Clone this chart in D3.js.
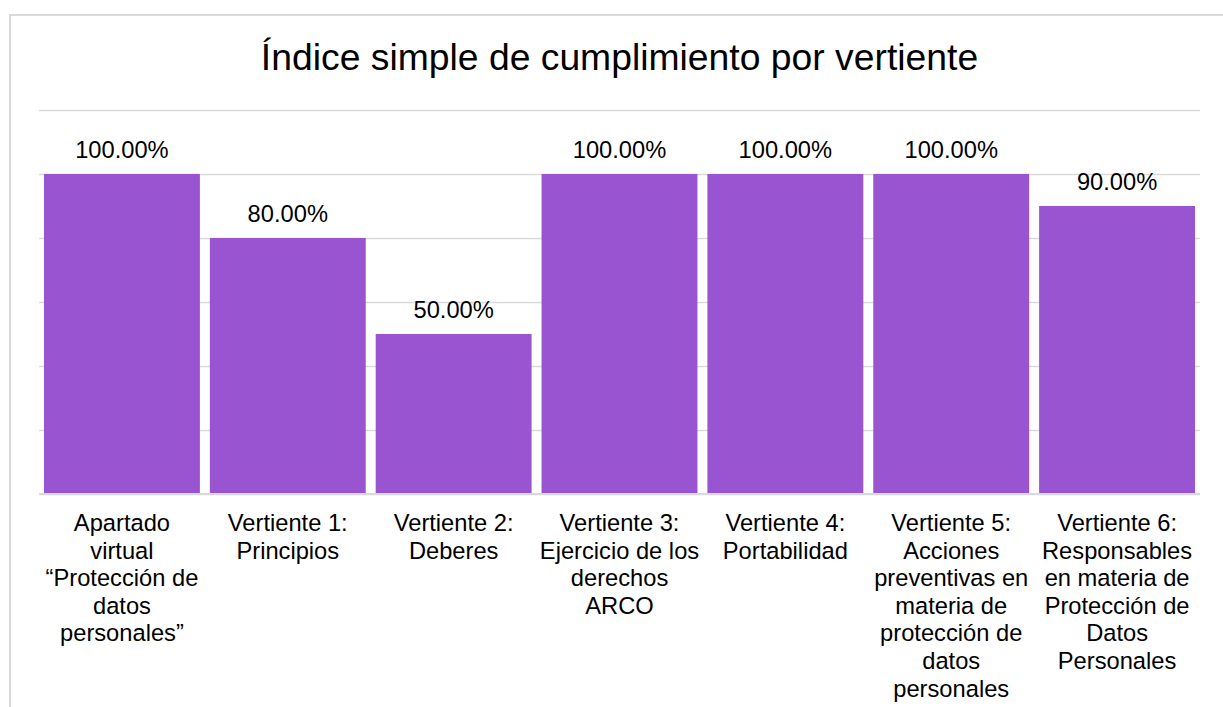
<!DOCTYPE html>
<html>
<head>
<meta charset="utf-8">
<script src="https://cdn.jsdelivr.net/npm/d3@7"></script>
<style>
  html, body { margin: 0; padding: 0; background: #fff; }
  svg { display: block; font-family: "Liberation Sans", Arial, sans-serif; }
</style>
</head>
<body>
<svg id="chart" width="1223" height="707"></svg>
<script>
// Category labels (line breaks as shown under each bar)
const categories = [
  "Apartado\nvirtual\n“Protección de\ndatos\npersonales”",
  "Vertiente 1:\nPrincipios",
  "Vertiente 2:\nDeberes",
  "Vertiente 3:\nEjercicio de los\nderechos\nARCO",
  "Vertiente 4:\nPortabilidad",
  "Vertiente 5:\nAcciones\npreventivas en\nmateria de\nprotección de\ndatos\npersonales",
  "Vertiente 6:\nResponsables\nen materia de\nProtección de\nDatos\nPersonales"
];
// Compliance index per category (fraction)
const values = [1.00, 0.80, 0.50, 1.00, 1.00, 1.00, 0.90];
// Gridline positions
const gridTicks = [0, 0.2, 0.4, 0.6, 0.8, 1.0, 1.2];
const title = "Índice simple de cumplimiento por vertiente";

const svg = d3.select("#chart");
const W = 1223, H = 707;
const plot = { left: 39, right: 1200, top: 110, bottom: 494 };
const labelSize = 23.7;

// Outer chart frame
svg.append("rect")
  .attr("x", 10).attr("y", 15)
  .attr("width", W + 20).attr("height", H + 20)
  .attr("fill", "#fff")
  .attr("stroke", "#d9d9d9").attr("stroke-width", 2);

svg.append("text")
  .attr("x", (plot.left + plot.right) / 2)
  .attr("y", 70)
  .attr("text-anchor", "middle")
  .attr("font-size", 37.3)
  .attr("fill", "#000")
  .text(title);

const x = d3.scaleBand()
  .domain(categories)
  .range([plot.left, plot.right])
  .paddingInner(0.06)
  .paddingOuter(0.03);

const y = d3.scaleLinear()
  .domain([0, 1.2])
  .range([plot.bottom, plot.top]);

// Horizontal gridlines
const grid = svg.append("g")
  .attr("transform", `translate(${plot.left},0)`)
  .call(d3.axisLeft(y)
    .tickValues(gridTicks)
    .tickSize(-(plot.right - plot.left))
    .tickFormat(""));
grid.select(".domain").remove();
grid.selectAll(".tick line")
  .attr("stroke", "#d9d9d9")
  .attr("stroke-width", 1.5);

// Bars
svg.append("g").selectAll("rect")
  .data(values)
  .join("rect")
  .attr("x", (d, i) => x(categories[i]))
  .attr("y", d => y(d))
  .attr("width", x.bandwidth())
  .attr("height", d => y(0) - y(d))
  .attr("fill", "#9955d1");

// Baseline
svg.append("line")
  .attr("x1", plot.left).attr("x2", plot.right)
  .attr("y1", y(0)).attr("y2", y(0))
  .attr("stroke", "#d9d9d9").attr("stroke-width", 2);

// Value labels
const fmt = d => (d * 100).toFixed(2) + "%";
svg.append("g").selectAll("text")
  .data(values)
  .join("text")
  .attr("x", (d, i) => x(categories[i]) + x.bandwidth() / 2)
  .attr("y", d => y(d) - 16)
  .attr("text-anchor", "middle")
  .attr("font-size", labelSize)
  .attr("fill", "#000")
  .text(fmt);

// Category labels via bottom axis
const xAxis = svg.append("g")
  .attr("transform", `translate(0,${plot.bottom})`)
  .call(d3.axisBottom(x).tickSize(0).tickFormat(""));
xAxis.select(".domain").remove();
xAxis.selectAll(".tick").each(function(d) {
  const t = d3.select(this).append("text")
    .attr("text-anchor", "middle")
    .attr("font-size", labelSize)
    .attr("fill", "#000")
    .attr("y", 37);
  d.split("\n").forEach((line, k) => {
    t.append("tspan")
      .attr("x", 0)
      .attr("y", 37 + k * 27.6)
      .text(line);
  });
});
</script>
</body>
</html>
